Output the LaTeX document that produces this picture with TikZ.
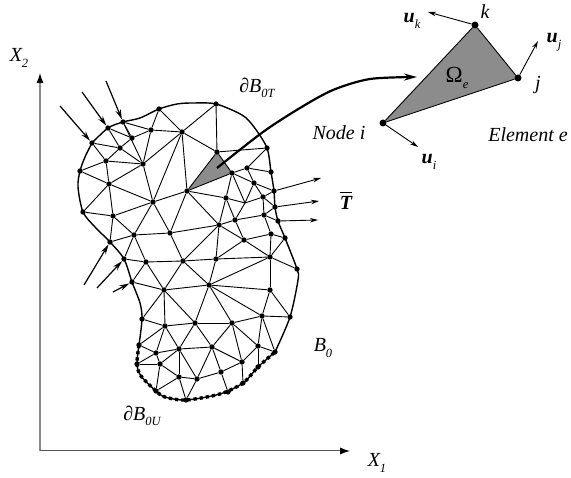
\documentclass[tikz,border=0pt]{standalone}
\usepackage{fontspec}
\setmainfont{Liberation Serif}
\usepackage{tikz}
\usetikzlibrary{arrows.meta,backgrounds}
\definecolor{ElemGray}{HTML}{8C8C8C}
\definecolor{AxisGray}{HTML}{8A8A8A}
\definecolor{AxisDark}{HTML}{555555}
\newcommand{\lowtext}[1]{\raisebox{-0.28em}{\fontsize{12.5}{14}\selectfont #1}}
\tikzset{
  meshdot/.style={circle,fill=black,inner sep=0pt,minimum size=5.4pt},
  elemdot/.style={circle,fill=black,inner sep=0pt,minimum size=7pt},
  meshline/.style={line width=0.9pt},
  edgeline/.style={line width=1.4pt},
  fixedline/.style={line width=3.4pt,dash pattern=on 3.2pt off 3pt},
  loadarrow/.style={line width=1.2pt,-{Stealth[length=10pt,width=5.5pt]}},
  disparrow/.style={line width=0.9pt,-{Stealth[length=8pt,width=4.5pt]}},
  tiplabel/.style={inner sep=0pt,font=\fontsize{20}{24}\selectfont\itshape},
}
\begin{document}
\begin{tikzpicture}[x=1pt,y=-1pt]
\path[use as bounding box] (0,0) rectangle (571,478);
\foreach \nm/\px/\py in {m1/92/143,m2/108/128,m3/123/122,m4/159/109,m5/216/104,m6/151/130,m7/132/138,
  m8/120/148,m9/182/132,m10/106/161,m11/143/164,m12/80/171,m13/109/184,m14/217/152,m15/187/191,
  m16/232/173,m17/247/168,m18/153/202,m19/83/212,m20/113/216,m21/226/198,m22/235/220,m23/219/225,
  m24/170/233,m25/134/235,m26/110/242,m27/244/240,m28/124/259,m29/216/259,m30/267/148,m31/271/172,
  m32/254/183,m33/274/191,m34/263/197,m35/275/207,m36/264/215,m37/278/221,m38/271/234,m39/285/238,
  m40/270/257,m41/297/269,m42/146/262,m43/183/261,m44/132/282,m45/164/290,m46/209/285,m47/270/290,
  m48/142/319,m49/165/326,m50/195/323,m51/232/323,m52/262/316,m53/290/317,m54/139/345,m55/156/353,
  m56/179/349,m57/212/347,m58/258/346,m59/275/352,m60/242/362,m61/137/364,m62/160/364,m63/179/377,
  m64/197/379,m65/221/372,m66/156/391,m67/186/400,m68/243/383,m69/258/367,m70/228/392}
  \node[meshdot] (\nm) at (\px,\py) {};
\coordinate (m71) at (245,203);
\begin{scope}[on background layer]
\fill[ElemGray] (m15.center) -- (m14.center) -- (m16.center) -- cycle;
\end{scope}
\foreach \a/\b in {m1/m8,m1/m10,m2/m7,m2/m8,m3/m6,m3/m7,m3/m11,m7/m6,m7/m8,m8/m10,m8/m11,m4/m6,m4/m9,
  m6/m9,m6/m11,m5/m9,m5/m14,m9/m14,m9/m11,m9/m18,m9/m15,m10/m12,m10/m11,m10/m13,m12/m13,m13/m11,
  m13/m19,m13/m20,m13/m18,m11/m18,m18/m15,m18/m20,m18/m25,m18/m24,m15/m14,m15/m16,m14/m16,m15/m24,
  m15/m21,m15/m23,m19/m20,m20/m26,m20/m25,m25/m26,m25/m24,m24/m23,m25/m28,m25/m42,m24/m43,m14/m30,
  m16/m17,m17/m30,m17/m31,m17/m32,m16/m32,m32/m33,m32/m34,m34/m33,m34/m35,m34/m36,m21/m71,m71/m34,
  m22/m71,m71/m32,m16/m71,m16/m21,m21/m23,m21/m22,m22/m23,m22/m36,m22/m27,m23/m27,m23/m29,m23/m43,
  m36/m37,m36/m38,m36/m35,m38/m39,m38/m27,m38/m40,m27/m40,m27/m29,m29/m40,m40/m39,m40/m41,m40/m47,
  m40/m46,m29/m46,m29/m43,m43/m42,m42/m28,m42/m44,m42/m45,m43/m45,m43/m46,m45/m46,m44/m45,m46/m47,
  m46/m50,m46/m51,m46/m52,m45/m48,m45/m49,m45/m50,m48/m49,m49/m50,m49/m54,m49/m55,m49/m56,m50/m51,
  m50/m56,m50/m57,m51/m52,m51/m57,m51/m60,m51/m58,m52/m47,m52/m53,m52/m58,m52/m59,m47/m53,m58/m59,
  m58/m60,m58/m69,m60/m57,m60/m65,m60/m68,m65/m57,m65/m64,m65/m70,m57/m64,m57/m56,m56/m55,m56/m62,
  m56/m63,m56/m64,m55/m54,m55/m61,m55/m62,m62/m61,m62/m63,m62/m66,m63/m64,m63/m66,m63/m67,m64/m67}
  \draw[meshline] (\a) -- (\b);
\coordinate (t1) at (140,118);
\coordinate (t2) at (177,104);
\coordinate (t3) at (193,103);
\coordinate (t4) at (242,115);
\coordinate (t5) at (254,127);
\coordinate (r1) at (298,280);
\coordinate (l1) at (140,303);
\coordinate (l2) at (95,227);
\coordinate (l3) at (78,187);
\coordinate (l4) at (85,157);
\coordinate (d1) at (220,394);
\coordinate (d2) at (165,397);
\coordinate (d3) at (141,376);
\draw[edgeline] plot[smooth] coordinates {(m1.center) (m2.center) (m3.center) (t1) (m4.center) (t2) (t3) (m5.center) (t4) (t5)
  (m30.center) (m31.center) (m33.center) (m35.center) (m37.center) (m39.center) (m41.center) (r1) (m53.center) (m59.center)};
\draw[edgeline] plot[smooth] coordinates {(m1.center) (l4) (m12.center) (l3) (m19.center) (l2) (m26.center) (m28.center) (m44.center) (l1) (m48.center) (m54.center)};
\draw[edgeline] plot[smooth] coordinates {(m54.center) (m61.center) (d3) (m66.center) (d2) (m67.center) (d1) (m68.center) (m69.center) (m59.center)};
\draw[fixedline] plot[smooth] coordinates {(m54.center) (m61.center) (d3) (m66.center) (d2) (m67.center) (d1) (m68.center) (m69.center) (m59.center)};
\coordinate (f1) at (60,106);
\coordinate (f2) at (82,92);
\coordinate (f3) at (106,81);
\coordinate (f4) at (84,285);
\coordinate (f5) at (97,288);
\coordinate (f6) at (113,292);
\coordinate (f7) at (321,178);
\coordinate (f8) at (319,201);
\coordinate (f9) at (318,220);
\draw[loadarrow] (f1) -- (m1);
\draw[loadarrow] (f2) -- (m2);
\draw[loadarrow] (f3) -- (m3);
\draw[loadarrow] (f4) -- (m26);
\draw[loadarrow] (f5) -- (m28);
\draw[loadarrow] (f6) -- (m44);
\draw[disparrow] (m33) -- (f7);
\draw[disparrow] (m35) -- (f8);
\draw[disparrow] (m37) -- (f9);
\coordinate (c0) at (217,168);
\coordinate (c1) at (263,132);
\coordinate (c2) at (300,108);
\coordinate (c3) at (333,90);
\coordinate (c4) at (370,79);
\coordinate (c5) at (417,77);
\draw[line width=2.2pt,-{Stealth[length=13pt,width=7pt]}] plot[smooth] coordinates {(c0) (c1) (c2) (c3) (c4) (c5)};
\coordinate (o) at (40,451);
\coordinate (a1) at (40,73);
\coordinate (a2) at (350,451);
\draw[AxisGray,line width=1.2pt,-{Latex[length=10pt,width=7pt,black]}] (o) -- (a1);
\draw[AxisDark,line width=1pt,-{Latex[length=10pt,width=7pt,black]}] (o) -- (a2);
\node[elemdot] (ni) at (383,123) {};
\node[elemdot] (nj) at (518,78) {};
\node[elemdot] (nk) at (475,25) {};
\begin{scope}[on background layer]
\fill[ElemGray] (ni.center) -- (nj.center) -- (nk.center) -- cycle;
\end{scope}
\draw[meshline] (ni) -- (nj);
\draw[meshline] (nj) -- (nk);
\draw[meshline] (nk) -- (ni);
\coordinate (ui) at (418,147);
\coordinate (uj) at (538,41);
\coordinate (uk) at (428,12);
\draw[disparrow] (ni) -- (ui);
\draw[disparrow] (nj) -- (uj);
\draw[disparrow] (nk) -- (uk);
\node[tiplabel] (x2) at (19,58) {X\lowtext{2}};
\node[tiplabel] (x1) at (377,463) {X\lowtext{1}};
\node[tiplabel] (bt) at (257,88) {∂B\lowtext{0T}};
\node[tiplabel] (bu) at (142,416) {∂B\lowtext{0U}};
\node[tiplabel] (b0) at (323,348) {B\lowtext{0}};
\node[tiplabel,anchor=base] (tbar) at (346,210) {\rlap{\raisebox{0.85em}{\rule{12.5pt}{1.3pt}}}\bfseries T};
\node[tiplabel] (oe) at (457,78) {\upshape{\fontsize{23}{26}\selectfont Ω}\lowtext{\itshape e}};
\node[tiplabel] (nl) at (339,133) {Node i};
\node[tiplabel] (el) at (528,135) {Element e};
\node[tiplabel] (li) at (429,162) {\bfseries u\lowtext{\mdseries i}};
\node[tiplabel] (lj) at (554,42) {\bfseries u\lowtext{\mdseries j}};
\node[tiplabel] (lk) at (412,21) {\bfseries u\lowtext{\mdseries k}};
\node[tiplabel] (kk) at (485,12) {k};
\node[tiplabel] (jj) at (538,85) {j};
\end{tikzpicture}
\end{document}
